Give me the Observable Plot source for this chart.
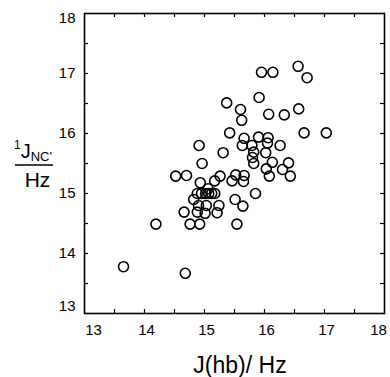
<!DOCTYPE html>
<html><head><meta charset="utf-8">
<script src="https://cdn.jsdelivr.net/npm/d3@7"></script>
<script src="https://cdn.jsdelivr.net/npm/@observablehq/plot@0.6"></script>
<style>body{margin:0;background:#fff}</style>
</head><body><div id="chart"></div>
<script>
// J(hb) / Hz  (x)
const jhb = [15.95,16.14,16.56,16.71,15.91,15.37,15.60,15.62,16.07,16.33,16.57,15.42,16.66,17.03,15.66,15.90,16.06,
  14.91,15.63,15.79,16.05,16.26,15.31,15.82,16.02,15.80,15.82,16.13,16.40,14.96,16.03,16.30,16.08,16.43,14.52,14.70,
  15.26,15.52,15.66,14.93,15.17,15.46,15.65,15.06,14.88,14.95,15.02,15.07,15.12,15.17,15.85,14.82,15.51,14.90,15.03,
  15.24,15.64,14.66,14.88,15.01,15.21,14.19,14.76,14.92,15.54,13.65,14.68];
// 1J(NC') / Hz  (y)
const jnc = [17.02,17.02,17.12,16.93,16.60,16.51,16.40,16.22,16.32,16.31,16.41,16.01,16.01,16.01,15.92,15.94,15.93,
  15.80,15.80,15.80,15.84,15.80,15.68,15.69,15.68,15.60,15.50,15.52,15.51,15.50,15.41,15.40,15.29,15.29,15.29,15.30,
  15.29,15.31,15.30,15.18,15.21,15.21,15.20,15.08,15.00,15.00,15.00,15.00,15.00,15.00,15.00,14.90,14.90,14.80,14.80,
  14.80,14.79,14.69,14.69,14.67,14.68,14.49,14.49,14.49,14.49,13.78,13.67];
const tickLabels = [13, 14, 15, 16, 17, 18];
const innerLabels = [14, 15, 16, 17];
const minorTicks = [13.5, 14, 14.5, 15, 15.5, 16, 16.5, 17, 17.5];
const xTitle = "J(hb)/ Hz";
const yTitleSup = "1", yTitleMain = "J", yTitleSub = "NC'", yTitleUnit = "Hz";

const font = '"Liberation Sans", Arial, Helvetica, sans-serif';
const fmt = d3.format("d");
const axX = (t, dx) => Plot.axisX(t, {tickSize: 0, tickPadding: 11, fontSize: 15, label: null, tickFormat: fmt, dx});
const axY = (t, dy) => Plot.axisY(t, {tickSize: 0, tickPadding: 9, fontSize: 15, label: null, tickFormat: fmt, dy});
const chart = Plot.plot({
  width: 390, height: 377,
  marginLeft: 84, marginRight: 6, marginTop: 13, marginBottom: 64,
  style: {fontFamily: font, color: "black", background: "white"},
  x: {domain: [13, 18]},
  y: {domain: [13, 18]},
  marks: [
    Plot.ruleX(minorTicks, {x: d => d, insetTop: 296, stroke: "black", strokeWidth: 1.2}),
    Plot.ruleX(minorTicks, {x: d => d, insetBottom: 296, stroke: "black", strokeWidth: 1.2}),
    Plot.ruleY(minorTicks, {y: d => d, insetRight: 296, stroke: "black", strokeWidth: 1.2}),
    Plot.ruleY(minorTicks, {y: d => d, insetLeft: 296, stroke: "black", strokeWidth: 1.2}),
    Plot.frame({stroke: "black", strokeWidth: 1.6}),
    axX([tickLabels[0]], 9), axX(innerLabels, 2), axX([tickLabels[5]], -6),
    axY([tickLabels[0]], -7), axY(innerLabels, 0), axY([tickLabels[5]], 5),
    Plot.dot(jhb, {x: jhb, y: jnc, r: 5, stroke: "black", strokeWidth: 1.6, fill: "none"}),
    Plot.text([xTitle], {text: d => d, frameAnchor: "bottom", dx: 5.5, dy: 52, fontSize: 23, lineAnchor: "middle", fill: "black"})
  ]
});
document.getElementById("chart").appendChild(chart);

// y-axis title: superscript 1, J, subscript NC', fraction bar, Hz
const svg = d3.select(chart);
const g = svg.append("g").attr("font-family", font).attr("fill", "black").attr("text-anchor", "start");
const t = g.append("text").attr("x", 14).attr("y", 158).attr("text-anchor", "start");
t.append("tspan").attr("font-size", 12).attr("dy", -9).text(yTitleSup);
t.append("tspan").attr("font-size", 20).attr("dy", 9).text(yTitleMain);
t.append("tspan").attr("font-size", 13).attr("dy", 3).text(yTitleSub);
g.append("line").attr("x1", 15).attr("x2", 53).attr("y1", 165).attr("y2", 165)
  .attr("stroke", "black").attr("stroke-width", 1.5);
g.append("text").attr("x", 37.5).attr("y", 187).attr("text-anchor", "middle")
  .attr("font-size", 21).text(yTitleUnit);
</script>
</body></html>
